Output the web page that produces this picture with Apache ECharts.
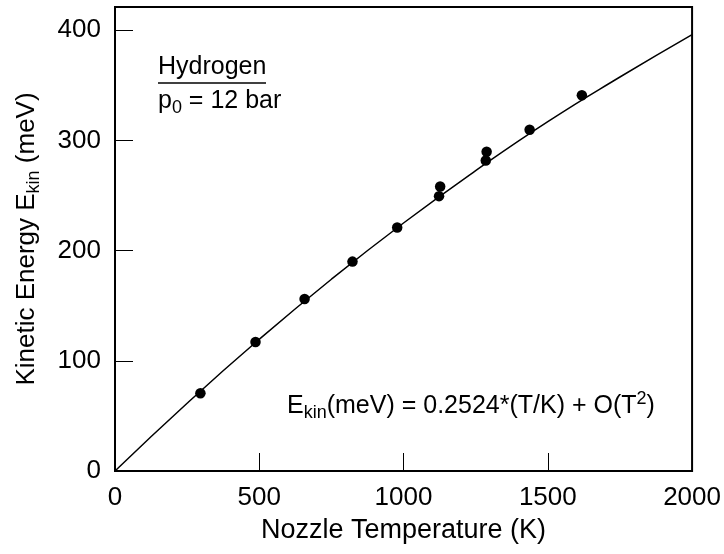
<!DOCTYPE html>
<html>
<head>
<meta charset="utf-8">
<script src="https://cdn.jsdelivr.net/npm/echarts@6/dist/echarts.min.js"></script>
<style>
html,body{margin:0;padding:0;background:#fff;}
#chart{width:724px;height:554px;}
</style>
</head>
<body>
<div id="chart"></div>
<script>
// Measured data points: nozzle temperature (K) and kinetic energy (meV)
const temperatures = [296, 487, 657, 823, 978, 1123, 1127, 1285, 1288, 1437, 1618];
const energies     = [70.5, 117, 156, 190, 221, 249.4, 258.2, 281.8, 289.6, 309.6, 341];
// Fit curve
const fitT = [0, 250, 500, 750, 1000, 1250, 1500, 1750, 2000];
const fitE = [0, 61.5, 119.5, 174, 225, 272.5, 317, 357.5, 396];
const xTicks = [0, 500, 1000, 1500, 2000];
const yTicks = [0, 100, 200, 300, 400];

const FONT = 'Liberation Sans, Arial, sans-serif';
const chart = echarts.init(document.getElementById('chart'));

const option = {
  animation: false,
  backgroundColor: '#fff',
  grid: { left: 115, right: 30, top: 7, bottom: 83, show: true, borderColor: '#000', borderWidth: 2, backgroundColor: 'transparent' },
  xAxis: {
    type: 'value', min: 0, max: 2000, interval: 500,
    axisLine: { show: true, lineStyle: { color: '#000', width: 2 } },
    axisTick: { show: true, inside: true, length: 18, lineStyle: { color: '#000', width: 1 } },
    axisLabel: { color: '#000', fontSize: 26, fontFamily: FONT, margin: 14,
      formatter: v => (xTicks.indexOf(v) >= 0 ? String(v) : '') },
    splitLine: { show: false },
    name: 'Nozzle Temperature (K)', nameLocation: 'middle', nameGap: 46,
    nameTextStyle: { color: '#000', fontSize: 27, fontFamily: FONT }
  },
  yAxis: {
    type: 'value', min: 0, max: 421, interval: 100,
    axisLine: { show: true, lineStyle: { color: '#000', width: 2 } },
    axisTick: { show: true, inside: true, length: 18, lineStyle: { color: '#000', width: 1 } },
    axisLabel: { color: '#000', fontSize: 26, fontFamily: FONT, margin: 14, showMaxLabel: false,
      formatter: v => (yTicks.indexOf(v) >= 0 ? String(v) : '') },
    splitLine: { show: false },
    name: 'Kinetic Energy E{sub|kin} (meV)', nameLocation: 'middle', nameGap: 72,
    nameTextStyle: { color: '#000', fontSize: 26, fontFamily: FONT,
      rich: { sub: { fontSize: 18, fontFamily: FONT, color: '#000', padding: [14, 0, 0, 0] } } }
  },
  series: [
    {
      type: 'line', smooth: true, showSymbol: false, symbol: 'none',
      data: fitT.map((t, i) => [t, fitE[i]]),
      lineStyle: { color: '#000', width: 1.5 }, z: 2
    },
    {
      type: 'scatter', symbol: 'circle', symbolSize: 10.5,
      data: temperatures.map((t, i) => [t, energies[i]]),
      itemStyle: { color: '#000', opacity: 1 }, z: 3
    }
  ],
  graphic: [
    { type: 'text', left: 158, top: 55, style: { text: 'Hydrogen', fill: '#000', font: '25px ' + FONT } },
    { type: 'line', shape: { x1: 158, y1: 83, x2: 266, y2: 83 }, style: { stroke: '#000', lineWidth: 1.5 } },
    { type: 'text', left: 158, top: 89, style: {
        text: 'p{sub|0} = 12 bar', fill: '#000', font: '25px ' + FONT,
        rich: { sub: { fontSize: 18, fontFamily: FONT, fill: '#000', padding: [14, 0, 0, 0] } } } },
    { type: 'text', left: 287, top: 390, style: {
        text: 'E{sub|kin}(meV) = 0.2524*(T/K) + O(T{sup|2})', fill: '#000', font: '25px ' + FONT,
        rich: {
          sub: { fontSize: 18, fontFamily: FONT, fill: '#000', padding: [14, 0, 0, 0] },
          sup: { fontSize: 18, fontFamily: FONT, fill: '#000', padding: [0, 0, 14, 0] }
        } } }
  ]
};
chart.setOption(option);
</script>
</body>
</html>
